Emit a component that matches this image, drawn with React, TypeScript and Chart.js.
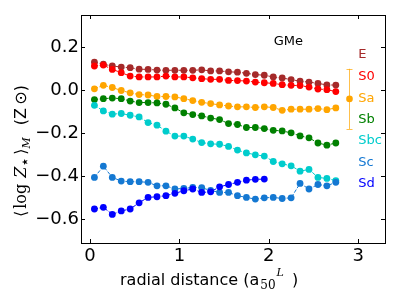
import React, { useEffect, useRef } from "react";
import { Chart, registerables } from "chart.js";

Chart.register(...registerables);

// ---- data ----
const radius = [0.05, 0.15, 0.25, 0.35, 0.45, 0.55, 0.65, 0.75, 0.85, 0.95, 1.05, 1.15, 1.25, 1.35, 1.45, 1.55, 1.65, 1.75, 1.85, 1.95, 2.05, 2.15, 2.25, 2.35, 2.45, 2.55, 2.65, 2.75];

const seriesE = [0.131, 0.121, 0.113, 0.108, 0.105, 0.098, 0.097, 0.094, 0.093, 0.093, 0.093, 0.093, 0.095, 0.09, 0.09, 0.086, 0.084, 0.079, 0.073, 0.07, 0.062, 0.057, 0.05, 0.042, 0.038, 0.032, 0.025, 0.024];
const seriesS0 = [0.113, 0.117, 0.097, 0.082, 0.066, 0.062, 0.062, 0.062, 0.066, 0.062, 0.062, 0.058, 0.054, 0.051, 0.051, 0.046, 0.045, 0.043, 0.038, 0.035, 0.032, 0.026, 0.023, 0.022, 0.015, 0.006, 0.003, -0.006];
const seriesSa = [0.007, 0.023, 0.013, -0.001, -0.012, -0.02, -0.022, -0.029, -0.029, -0.031, -0.039, -0.048, -0.056, -0.062, -0.068, -0.073, -0.077, -0.077, -0.08, -0.077, -0.08, -0.093, -0.088, -0.088, -0.088, -0.085, -0.09, -0.082];
const seriesSb = [-0.043, -0.039, -0.036, -0.039, -0.05, -0.057, -0.057, -0.059, -0.065, -0.082, -0.105, -0.113, -0.119, -0.129, -0.136, -0.155, -0.159, -0.173, -0.173, -0.178, -0.186, -0.189, -0.198, -0.212, -0.221, -0.245, -0.255, -0.245];
const seriesSbc = [-0.07, -0.096, -0.111, -0.108, -0.116, -0.124, -0.15, -0.162, -0.19, -0.213, -0.213, -0.227, -0.243, -0.249, -0.251, -0.261, -0.278, -0.291, -0.3, -0.306, -0.331, -0.342, -0.351, -0.376, -0.368, -0.405, -0.41, -0.42];
const seriesSc = [-0.405, -0.353, -0.405, -0.422, -0.425, -0.425, -0.428, -0.444, -0.444, -0.459, -0.456, -0.452, -0.453, -0.466, -0.475, -0.475, -0.49, -0.498, -0.506, -0.5, -0.498, -0.503, -0.5, -0.433, -0.459, -0.438, -0.444, -0.428];
const seriesSd = [-0.552, -0.544, -0.577, -0.561, -0.552, -0.523, -0.498, -0.495, -0.49, -0.479, -0.467, -0.459, -0.475, -0.472, -0.449, -0.438, -0.428, -0.418, -0.414, -0.413];

const typeNames = ["E", "S0", "Sa", "Sb", "Sbc", "Sc", "Sd"];
const typeColors = ["#a52a2a", "#ff0000", "#ffa500", "#008000", "#00cccc", "#1478d2", "#0000ff"];
const typeSeries = [seriesE, seriesS0, seriesSa, seriesSb, seriesSbc, seriesSc, seriesSd];

// legend-like labels (data coords)
const labelX = 3.0;
const labelYs = [0.173, 0.071, -0.031, -0.129, -0.226, -0.329, -0.426];

// typical error bar
const errX = 2.9;
const errY = -0.04;
const errHalf = 0.14;

// annotation
const annotText = "GMe";
const annotX = 2.22;
const annotY = 0.234;

const xTicks = [0, 1, 2, 3];
const xTickLabels = ["0", "1", "2", "3"];
const yTicks = [-0.6, -0.4, -0.2, 0.0, 0.2];
const yTickLabels = ["\u22120.6", "\u22120.4", "\u22120.2", "0.0", "0.2"];

const W = 406;
const H = 304;

const overlay = {
  id: "overlay",
  afterDraw(chart: any) {
    const { ctx, chartArea: a, scales } = chart;
    const x = scales.x;
    const y = scales.y;
    ctx.save();
    // frame
    ctx.strokeStyle = "#000";
    ctx.lineWidth = 1;
    ctx.strokeRect(a.left + 0.5, a.top + 0.5, a.right - a.left, a.bottom - a.top);
    // inward ticks
    ctx.beginPath();
    for (const v of xTicks) {
      const px = Math.round(x.getPixelForValue(v)) + 0.5;
      ctx.moveTo(px, a.bottom);
      ctx.lineTo(px, a.bottom - 4);
      ctx.moveTo(px, a.top);
      ctx.lineTo(px, a.top + 4);
    }
    for (const v of yTicks) {
      const py = Math.round(y.getPixelForValue(v)) + 0.5;
      ctx.moveTo(a.left, py);
      ctx.lineTo(a.left + 4, py);
      ctx.moveTo(a.right, py);
      ctx.lineTo(a.right - 4, py);
    }
    ctx.stroke();

    // error bar
    const ex = Math.round(x.getPixelForValue(errX)) + 0.5;
    const ey = y.getPixelForValue(errY);
    const et = y.getPixelForValue(errY + errHalf);
    const eb = y.getPixelForValue(errY - errHalf);
    ctx.strokeStyle = "rgba(255,165,0,0.7)";
    ctx.beginPath();
    ctx.moveTo(ex, et);
    ctx.lineTo(ex, eb);
    ctx.moveTo(ex - 3, Math.round(et) + 0.5);
    ctx.lineTo(ex + 3, Math.round(et) + 0.5);
    ctx.moveTo(ex - 3, Math.round(eb) + 0.5);
    ctx.lineTo(ex + 3, Math.round(eb) + 0.5);
    ctx.stroke();
    ctx.fillStyle = "#ffa500";
    ctx.beginPath();
    ctx.arc(ex, ey, 3.3, 0, Math.PI * 2);
    ctx.fill();

    // type labels
    ctx.font = "13px 'DejaVu Sans'";
    ctx.textAlign = "left";
    ctx.textBaseline = "alphabetic";
    typeNames.forEach((n, i) => {
      ctx.fillStyle = typeColors[i];
      ctx.fillText(n, x.getPixelForValue(labelX), y.getPixelForValue(labelYs[i]) + 4.7);
    });
    ctx.fillStyle = "#000";
    ctx.textAlign = "center";
    ctx.fillText(annotText, x.getPixelForValue(annotX), y.getPixelForValue(annotY) + 4.7);

    // x title
    ctx.textAlign = "left";
    const xt = (s: string, font: string, px: number, py: number) => {
      ctx.font = font;
      ctx.fillText(s, px, py);
      return ctx.measureText(s).width;
    };
    {
      const base = 285;
      let cx = 120;
      cx += xt("radial distance (a", "16px 'DejaVu Sans'", cx, base);
      cx += 1;
      const w50 = xt("50", "12px 'DejaVu Serif'", cx, base + 4);
      cx += w50 + 1;
      const wL = xt("L", "italic 11px 'DejaVu Serif'", cx, base - 9);
      cx += wL;
      xt(" \u2009)", "16px 'DejaVu Sans'", cx, base);
    }

    // y title (rotated)
    ctx.save();
    ctx.translate(26, 217);
    ctx.rotate(-Math.PI / 2);
    {
      let cx = 0;
      cx += xt("\u27E8", "16px 'DejaVu Serif'", cx, 0);
      cx += 2;
      cx += xt("log", "16px 'DejaVu Serif'", cx, 0);
      cx += 6;
      cx += xt("Z", "italic 16px 'DejaVu Serif'", cx, 0);
      cx += xt("\u22C6", "16px 'DejaVu Serif'", cx, 4);
      cx += 2;
      cx += xt("\u27E9", "16px 'DejaVu Serif'", cx, 0);
      cx += xt("M", "italic 11px 'DejaVu Serif'", cx, 4);
      cx += 12;
      xt("(Z\u2009\u2299)", "16px 'DejaVu Sans'", cx, 0);
    }
    ctx.restore();
    ctx.restore();
  },
};

export default function App() {
  const ref = useRef<HTMLCanvasElement | null>(null);
  useEffect(() => {
    if (!ref.current) return;
    const datasets = typeSeries.map((vals, i) => ({
      label: typeNames[i],
      data: vals.map((v, j) => ({ x: radius[j], y: v })),
      borderColor: typeColors[i],
      backgroundColor: typeColors[i],
      pointBackgroundColor: typeColors[i],
      pointBorderColor: typeColors[i],
      pointBorderWidth: 0,
      pointRadius: 3.4,
      borderWidth: 1,
      borderDash: [3.7, 1.6],
      fill: false,
      tension: 0,
      order: typeSeries.length - i,
    }));
    const tickFont = { family: "'DejaVu Sans'", size: 18 };
    const chart = new Chart(ref.current, {
      type: "line",
      data: { datasets },
      options: {
        animation: false,
        responsive: false,
        devicePixelRatio: 1,
        layout: { padding: { left: 0, right: 21, top: 15, bottom: 0 } },
        plugins: { legend: { display: false }, tooltip: { enabled: false } },
        scales: {
          x: {
            type: "linear",
            min: -0.1,
            max: 3.3,
            grid: { display: false, drawTicks: false },
            border: { display: false },
            afterBuildTicks: (s: any) => {
              s.ticks = xTicks.map((v) => ({ value: v }));
            },
            afterFit: (s: any) => {
              s.height = 61;
            },
            ticks: {
              autoSkip: false,
              maxRotation: 0,
              color: "#000",
              font: tickFont,
              padding: 3,
              callback: (v: any) => xTickLabels[xTicks.indexOf(v)],
            },
          },
          y: {
            type: "linear",
            min: -0.71,
            max: 0.35,
            grid: { display: false, drawTicks: false },
            border: { display: false },
            afterBuildTicks: (s: any) => {
              s.ticks = yTicks.map((v) => ({ value: v }));
            },
            afterFit: (s: any) => {
              s.width = 81;
            },
            ticks: {
              autoSkip: false,
              color: "#000",
              font: tickFont,
              padding: 2,
              callback: (v: any) => yTickLabels[yTicks.indexOf(v)],
            },
          },
        },
      },
      plugins: [overlay],
    } as any);
    return () => chart.destroy();
  }, []);
  return (
    <div style={{ position: "fixed", left: 0, top: 0, width: W, height: H, background: "#fff" }}>
      <canvas ref={ref} width={W} height={H} style={{ width: W, height: H, display: "block" }} />
    </div>
  );
}
